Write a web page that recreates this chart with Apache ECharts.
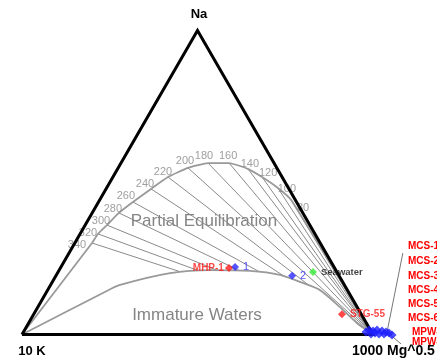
<!DOCTYPE html>
<html>
<head>
<meta charset="utf-8">
<script src="https://cdn.jsdelivr.net/npm/echarts@6/dist/echarts.min.js"></script>
<style>
  html, body { margin: 0; padding: 0; background: #fff; }
  #chart { width: 437px; height: 359px; }
</style>
</head>
<body>
<div id="chart"></div>
<script>
// Na–K–Mg ternary (Giggenbach): Na/1000, K/100 and Mg^0.5, each as % of their sum.

// Full-equilibration line, temperatures in °C
const eqTemps = [340, 320, 300, 280, 260, 240, 220, 200, 180, 160, 140, 120, 100, 80];
const eqNa    = [30.1, 33.1, 36.0, 40.0, 43.6, 47.9, 51.8, 54.8, 56.4, 56.4, 54.5, 51.8, 48.2, 44.3];
const eqK     = [65.0, 61.8, 57.8, 52.4, 46.6, 39.3, 32.5, 25.3, 18.8, 12.8,  8.4,  5.7,  3.0,  1.2];
const eqMg    = [ 4.9,  5.1,  6.2,  7.6,  9.8, 12.8, 15.7, 19.9, 24.8, 30.8, 37.1, 42.5, 48.8, 54.5];

// Immature-waters boundary, from the K corner to the Mg corner
const immNa = [0, 14.0, 16.3, 20.2, 21.2, 20.9, 19.6, 17.3, 14.6,  9.0,  3.8, 0];
const immK  = [100, 69.4, 63.9, 47.7, 35.8, 24.6, 16.7, 12.2,  7.8,  4.9,  2.7, 0];
const immMg = [0, 16.6, 19.8, 32.1, 43.0, 54.5, 63.7, 70.5, 77.6, 86.1, 93.5, 100];

// Labelled samples
const redNames  = ['MHP-1', 'STG-55'];
const redNa     = [21.9, 6.7];
const redK      = [30.1, 5.5];
const redMg     = [48.0, 87.8];

const blueNames = ['1', '2'];
const blueNa    = [22.2, 19.3];
const blueK     = [28.2, 13.4];
const blueMg    = [49.6, 67.3];

const seaNames  = ['Seawater'];
const seaNa     = [20.6];
const seaK      = [6.8];
const seaMg     = [72.6];

// Cluster of samples at the Mg corner
const clusterNa = [0.82, 1.48, 0.16, 1.15, 0.49, 1.48, 0.16, 1.15, 0.16, 0.82, 0.49, -0.16];
const clusterK  = [1.58, 0.40, 0.49, -0.58, -0.81, -1.88, -1.79, -3.14, -3.21, -4.11, -4.81, -5.33];
const clusterMg = [97.60, 98.12, 99.35, 99.43, 100.32, 100.40, 101.63, 101.99, 103.05, 103.29, 104.32, 105.49];
const clusterLabels = ['MCS-1', 'MCS-2', 'MCS-3', 'MCS-4', 'MCS-5', 'MCS-6', 'MPW-1', 'MPW-2'];

// Callout path beside the Mg corner, in triangle-plane units
const calloutPath = [[108.5, 23.2], [104.0, 0.7], [108.0, -2.7]];

// ---- ternary -> plane (K at origin, Mg at (100,0), Na at the apex) ----
const H = Math.sqrt(3) / 2;
function tern(na, k, mg) {
  const s = na + k + mg;
  return [(mg + na / 2) / s * 100, na * H / s * 100];
}
const zip3 = (a, b, c) => a.map((v, i) => tern(v, b[i], c[i]));

const CK = tern(0, 100, 0), CMg = tern(0, 0, 100), CNa = tern(100, 0, 0);
const eqPts = zip3(eqNa, eqK, eqMg);
const immPts = zip3(immNa, immK, immMg);

const FONT = '"Liberation Sans", Arial, Helvetica, sans-serif';

// Per-label nudges for the isotherm temperatures (pixels)
const tempLabelNudge = [[-15, 2], [-10, -1], [-6, -4], [-6, -4], [-7, -6], [-6, -5], [-5, -5],
                        [-3, -7], [-4, -7], [-1, -7], [2, -5], [6, -4], [9, 1], [12, 8]];

const chart = echarts.init(document.getElementById('chart'), null, { renderer: 'canvas' });

const textEl = (txt, x, y, font, fill, align, z) => ({
  type: 'text', x: x, y: y, z: z || 100, silent: true,
  style: { text: txt, font: font, fill: fill,
           align: align || 'center', textAlign: align || 'center',
           verticalAlign: 'middle', textVerticalAlign: 'middle' }
});

const graphics = [
  textEl('Na', 199, 14, 'bold 13px ' + FONT, '#000'),
  textEl('10 K', 32, 351, 'bold 13px ' + FONT, '#000'),
  textEl('1000 Mg^0.5', 352, 351, 'bold 14px ' + FONT, '#000', 'left', 101),
  textEl('Partial Equilibration', 204, 221, '17px ' + FONT, '#858585'),
  textEl('Immature Waters', 197, 315, '17px ' + FONT, '#858585')
];
const labelRows = [246, 261, 276, 290, 304, 318, 332, 342];
clusterLabels.forEach((name, i) => {
  graphics.push(textEl(name, name.startsWith('MPW') ? 412 : 408, labelRows[i],
    'bold 10px ' + FONT, '#ff0000', 'left', 99));
});

const ptLabel = (color, pos, size, bold) => ({
  show: true, position: pos, distance: 4, color: color,
  fontFamily: FONT, fontSize: size, fontWeight: bold ? 'bold' : 'normal',
  formatter: p => p.name
});

chart.setOption({
  animation: false,
  backgroundColor: '#fff',
  grid: { left: 0, right: 0, top: 0, bottom: 0 },
  xAxis: { type: 'value', min: -6.268, max: 118.234, show: false },
  yAxis: { type: 'value', min: -6.98, max: 95.30, show: false },
  graphic: graphics,
  series: [
    // Na/K isotherms running toward the Mg corner
    {
      type: 'lines', coordinateSystem: 'cartesian2d', z: 1, silent: true,
      lineStyle: { color: '#7d7d7d', width: 0.9, opacity: 1 },
      data: eqPts.map(p => ({ coords: [p, CMg] }))
    },
    // Immature-waters line; the white fill hides the isotherms beneath it
    {
      type: 'line', z: 2, symbol: 'none', smooth: 0.25, silent: true,
      lineStyle: { color: '#999', width: 1.8 },
      areaStyle: { color: '#ffffff', opacity: 1, origin: 'start' },
      data: immPts
    },
    // Full-equilibration line
    {
      type: 'line', z: 3, symbol: 'none', smooth: 0.15, silent: true,
      lineStyle: { color: '#999', width: 1.8 },
      data: [CK].concat(eqPts, [CMg])
    },
    // Temperature labels
    {
      type: 'scatter', z: 4, symbolSize: 1, silent: true,
      itemStyle: { color: 'rgba(0,0,0,0)' },
      data: eqPts.map((p, i) => ({
        value: p, name: String(eqTemps[i]),
        label: { offset: tempLabelNudge[i] }
      })),
      label: {
        show: true, position: 'inside', color: '#878787',
        fontFamily: FONT, fontSize: 11, formatter: p => p.name
      }
    },
    // Triangle frame
    {
      type: 'line', z: 5, symbol: 'none', silent: true,
      lineStyle: { color: '#000', width: 3, join: 'miter' },
      data: [CK, CMg, CNa, CK]
    },
    // Callout line
    {
      type: 'line', z: 5, symbol: 'none', silent: true,
      lineStyle: { color: '#777', width: 1 },
      data: calloutPath
    },
    // Samples
    {
      type: 'scatter', z: 6, symbol: 'diamond', symbolSize: 9,
      itemStyle: { color: '#1f1fff' },
      data: zip3(clusterNa, clusterK, clusterMg)
    },
    {
      type: 'scatter', z: 7, symbol: 'diamond', symbolSize: 8,
      itemStyle: { color: '#2a2aff' },
      label: ptLabel('#2a2aff', 'right', 11, false),
      data: zip3(blueNa, blueK, blueMg).map((p, i) => ({ value: p, name: blueNames[i] }))
    },
    {
      type: 'scatter', z: 7, symbol: 'diamond', symbolSize: 8,
      itemStyle: { color: '#33ee33' },
      label: ptLabel('#111', 'right', 9.5, true),
      data: zip3(seaNa, seaK, seaMg).map((p, i) => ({ value: p, name: seaNames[i] }))
    },
    {
      type: 'scatter', z: 7, symbol: 'diamond', symbolSize: 8,
      itemStyle: { color: '#ff1a1a' },
      label: ptLabel('#ff1a1a', 'right', 10, true),
      data: zip3(redNa, redK, redMg).map((p, i) => ({
        value: p, name: redNames[i],
        label: i === 0 ? { position: 'left', distance: 1 } : {}
      }))
    }
  ]
});
</script>
</body>
</html>
